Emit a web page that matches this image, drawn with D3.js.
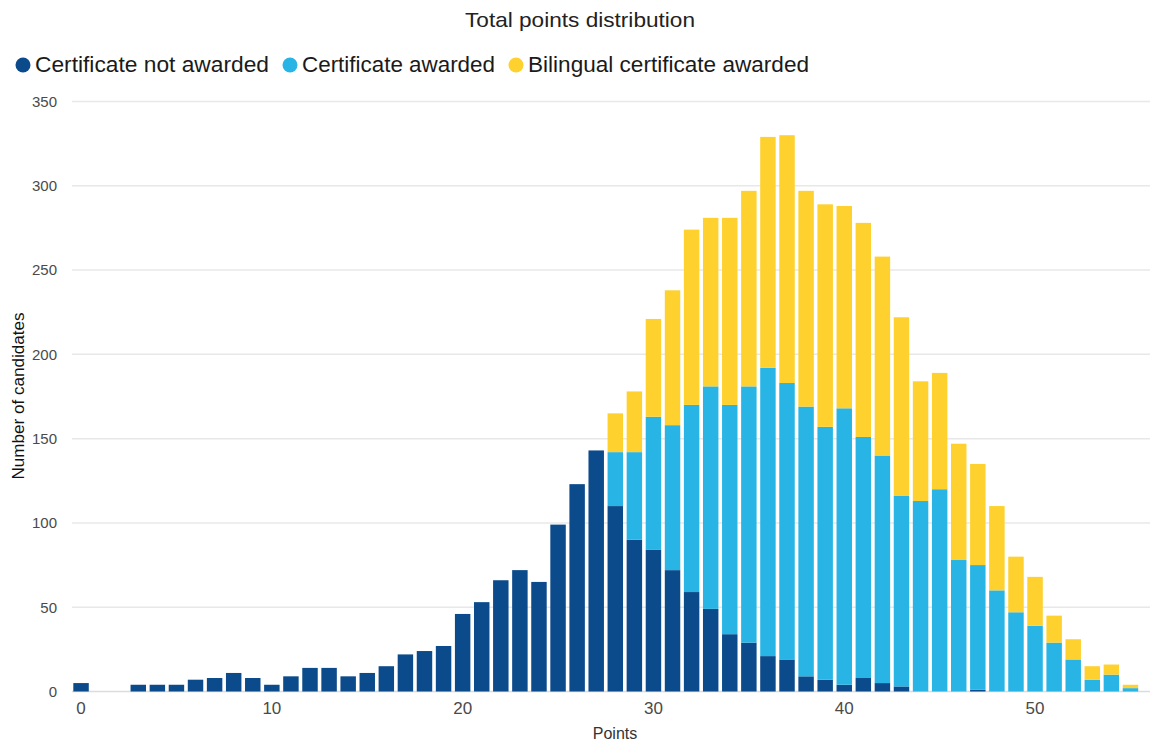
<!DOCTYPE html>
<html>
<head>
<meta charset="utf-8">
<script src="https://cdn.jsdelivr.net/npm/d3@7"></script>
<style>
  body { margin: 0; background: #fff; }
  svg { font-family: "Liberation Sans", Arial, sans-serif; }
</style>
</head>
<body>
<div class="chart"></div>
<script>
// points 0..55
const points = d3.range(0, 56);

const notAwarded = [5, 0, 0, 4, 4, 4, 7, 8, 11, 8, 4, 9, 14, 14, 9, 11, 15, 22, 24, 27,
  46, 53, 66, 72, 65, 99, 123, 143, 110, 90, 84, 72, 59, 49, 34, 29, 21, 19, 9, 7,
  4, 8, 5, 3, 0, 0, 0, 1, 0, 0, 0, 0, 0, 0, 0, 0];

const awarded = [0, 0, 0, 0, 0, 0, 0, 0, 0, 0, 0, 0, 0, 0, 0, 0, 0, 0, 0, 0,
  0, 0, 0, 0, 0, 0, 0, 0, 32, 52, 79, 86, 111, 132, 136, 152, 171, 164, 160, 150,
  164, 143, 135, 113, 113, 120, 78, 74, 60, 47, 39, 29, 19, 7, 10, 2];

const bilingual = [0, 0, 0, 0, 0, 0, 0, 0, 0, 0, 0, 0, 0, 0, 0, 0, 0, 0, 0, 0,
  0, 0, 0, 0, 0, 0, 0, 0, 23, 36, 58, 80, 104, 100, 111, 116, 137, 147, 128, 132,
  120, 127, 118, 106, 71, 69, 69, 60, 50, 33, 29, 16, 12, 8, 6, 2];

const seriesNames = ["Certificate not awarded", "Certificate awarded", "Bilingual certificate awarded"];
const colors = ["#0b4a8b", "#28b5e6", "#fed12e"];
const yTicks = [0, 50, 100, 150, 200, 250, 300, 350];
const xTicks = [0, 10, 20, 30, 40, 50];

const width = 1153, height = 744;
const margin = { top: 101.5, bottom: 52.5, left: 71.5, right: 13 };

const rows = points.map((p, i) => ({
  point: p,
  [seriesNames[0]]: notAwarded[i],
  [seriesNames[1]]: awarded[i],
  [seriesNames[2]]: bilingual[i]
}));

const stacked = d3.stack().keys(seriesNames)(rows);

const x = d3.scaleBand()
  .domain(points)
  .range([margin.left, 1140])
  .paddingInner(0.19)
  .paddingOuter(0.095);

const y = d3.scaleLinear()
  .domain([0, 350])
  .range([height - margin.bottom, margin.top]);

const svg = d3.select(".chart")
  .append("svg")
  .attr("width", width)
  .attr("height", height);

// grid
svg.append("g")
  .selectAll("line")
  .data(yTicks)
  .enter()
  .append("line")
  .attr("x1", 72)
  .attr("x2", 1150)
  .attr("y1", d => y(d))
  .attr("y2", d => y(d))
  .attr("stroke", d => d === 0 ? "#dcdcdc" : "#e8e8e8")
  .attr("stroke-width", 1.5);

// y tick labels
svg.append("g")
  .selectAll("text")
  .data(yTicks)
  .enter()
  .append("text")
  .attr("x", 57)
  .attr("y", d => y(d))
  .attr("dy", "0.36em")
  .attr("text-anchor", "end")
  .attr("font-size", 15)
  .attr("fill", "#4a4a4a")
  .text(d => d);

// bars
svg.append("g")
  .selectAll("g")
  .data(stacked)
  .enter()
  .append("g")
  .attr("fill", (d, i) => colors[i])
  .selectAll("rect")
  .data(d => d)
  .enter()
  .append("rect")
  .attr("x", d => x(d.data.point))
  .attr("width", x.bandwidth())
  .attr("y", d => y(d[1]))
  .attr("height", d => y(d[0]) - y(d[1]));

// x tick labels
svg.append("g")
  .selectAll("text")
  .data(xTicks)
  .enter()
  .append("text")
  .attr("x", d => x(d) + x.bandwidth() / 2)
  .attr("y", 714)
  .attr("text-anchor", "middle")
  .attr("font-size", 17)
  .attr("fill", "#4a4a4a")
  .text(d => d);

// axis titles
svg.append("text")
  .attr("x", 615)
  .attr("y", 739)
  .attr("text-anchor", "middle")
  .attr("font-size", 16)
  .attr("fill", "#333")
  .text("Points");

svg.append("text")
  .attr("transform", "translate(24,396) rotate(-90)")
  .attr("text-anchor", "middle")
  .attr("font-size", 16)
  .attr("fill", "#111")
  .attr("textLength", 167)
  .attr("lengthAdjust", "spacingAndGlyphs")
  .text("Number of candidates");

// title
svg.append("text")
  .attr("x", 580)
  .attr("y", 27)
  .attr("text-anchor", "middle")
  .attr("font-size", 21)
  .attr("fill", "#222")
  .attr("textLength", 230)
  .attr("lengthAdjust", "spacingAndGlyphs")
  .text("Total points distribution");

// legend
const legendWidths = [234, 193, 281];
const legend = svg.append("g").attr("transform", "translate(0,72)");
let lx = 23;
seriesNames.forEach((name, i) => {
  legend.append("circle")
    .attr("cx", lx)
    .attr("cy", -7)
    .attr("r", 7.5)
    .attr("fill", colors[i]);
  legend.append("text")
    .attr("x", lx + 12)
    .attr("y", 0)
    .attr("font-size", 22)
    .attr("fill", "#1a1a1a")
    .attr("textLength", legendWidths[i])
    .attr("lengthAdjust", "spacingAndGlyphs")
    .text(name);
  lx += 12 + legendWidths[i] + 21;
});
</script>
</body>
</html>
